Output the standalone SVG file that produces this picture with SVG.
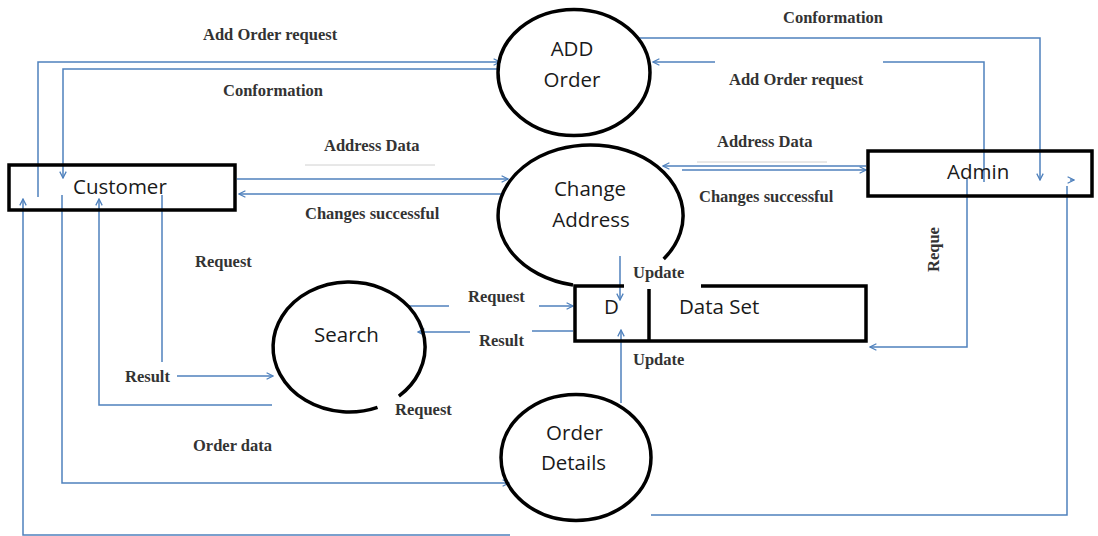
<svg xmlns="http://www.w3.org/2000/svg" width="1098" height="536" viewBox="0 0 1098 536">
<style>
.shape{fill:none;stroke:#000;stroke-width:3.5}
.node{font-family:"Open Sans","Liberation Sans",sans-serif;font-size:20.5px;fill:#1a1a1a}
.lbl{font-family:"Liberation Serif","Times New Roman",serif;font-weight:bold;font-size:16.5px;fill:#333}
.ln{fill:none;stroke:#4f81bd;stroke-width:1.5}
.arr{marker-end:url(#ah)}
.rule{stroke:#d0d0d0;stroke-width:1}
</style>
<defs>
<marker id="ah" viewBox="0 0 10 10" refX="9" refY="5" markerWidth="8" markerHeight="8" markerUnits="userSpaceOnUse" orient="auto">
<path d="M1,1 L9,5 L1,9" fill="none" stroke="#4f81bd" stroke-width="1.6"/>
</marker>
</defs>
<rect width="1098" height="536" fill="#fff"/>

<g id="connectors">
<path class="ln arr" d="M38,197 V62 H500"/>
<path class="ln arr" d="M500,69 H63 V178"/>
<path class="ln arr" d="M237,179 H508"/>
<path class="ln arr" d="M503,194 H239"/>
<path class="ln arr" d="M866,166 H663"/>
<path class="ln arr" d="M682,170 H866"/>
<path class="ln arr" d="M639,38 H1040 V180"/>
<path class="ln" d="M984,182 V62 H883"/>
<path class="ln arr" d="M715,62 H653"/>
<path class="ln arr" d="M967,179 V347 H870"/>
<path class="ln" d="M651,515 H1067 V186"/>
<path class="ln arr" d="M1070,180 H1074"/>
<path class="ln arr" d="M620,256 V300"/>
<path class="ln arr" d="M621,403 V330"/>
<path class="ln" d="M407,306 H449"/>
<path class="ln arr" d="M539,306 H573"/>
<path class="ln" d="M573,331 H532"/>
<path class="ln arr" d="M470,332 H418"/>
<path class="ln" d="M162,195 V362"/>
<path class="ln arr" d="M177,376 H273"/>
<path class="ln arr" d="M272,405 H99 V199"/>
<path class="ln arr" d="M62,195 V483 H509"/>
<path class="ln arr" d="M510,535 H23 V199"/>
<line class="rule" x1="305" y1="165" x2="435" y2="165"/>
<line class="rule" x1="697" y1="162" x2="827" y2="162"/>
</g>

<g id="labels">
<text class="lbl" x="203" y="40">Add Order request</text>
<text class="lbl" x="223" y="96">Conformation</text>
<text class="lbl" x="324" y="151">Address Data</text>
<text class="lbl" x="305" y="219">Changes successful</text>
<text class="lbl" x="195" y="267">Request</text>
<text class="lbl" x="783" y="23">Conformation</text>
<text class="lbl" x="729" y="85">Add Order request</text>
<text class="lbl" x="717" y="147">Address Data</text>
<text class="lbl" x="699" y="202">Changes successful</text>
<text class="lbl" transform="translate(939,272) rotate(-90)">Reque</text>
<text class="lbl" x="633" y="278">Update</text>
<text class="lbl" x="633" y="365">Update</text>
<text class="lbl" x="468" y="302">Request</text>
<text class="lbl" x="479" y="346">Result</text>
<text class="lbl" x="125" y="382">Result</text>
<text class="lbl" x="395" y="415">Request</text>
<text class="lbl" x="193" y="451">Order data</text>
</g>

<g id="customer">
<rect class="shape" x="9" y="165" width="226" height="45"/>
<text class="node" x="73" y="194">Customer</text>
</g>

<g id="admin">
<rect class="shape" x="868" y="151" width="224" height="45"/>
<text class="node" x="947" y="179">Admin</text>
</g>

<g id="add-order">
<ellipse class="shape" cx="574" cy="72.5" rx="76" ry="63"/>
<text class="node" x="572" y="56" text-anchor="middle">ADD</text>
<text class="node" x="572" y="87" text-anchor="middle">Order</text>
</g>

<g id="change-address">
<path class="shape" d="M663.7,258.9 A92.5,70.7 0 1 0 573,285"/>
<text class="node" x="590" y="196" text-anchor="middle">Change</text>
<text class="node" x="591" y="227" text-anchor="middle">Address</text>
</g>

<g id="search">
<path class="shape" d="M398.9,396.1 A76,65 0 1 0 377.5,407.3"/>
<text class="node" x="346.5" y="342" text-anchor="middle">Search</text>
</g>

<g id="order-details">
<ellipse class="shape" cx="576" cy="457.5" rx="75" ry="63"/>
<text class="node" x="574.5" y="440" text-anchor="middle">Order</text>
<text class="node" x="573.5" y="470" text-anchor="middle">Details</text>
</g>

<g id="data-set">
<path class="shape" d="M624,286 H575 V341 H866 V286 H701"/>
<line class="shape" x1="649" y1="289" x2="649" y2="341"/>
<text class="node" x="604" y="314">D</text>
<text class="node" x="679" y="314">Data Set</text>
</g>
</svg>
